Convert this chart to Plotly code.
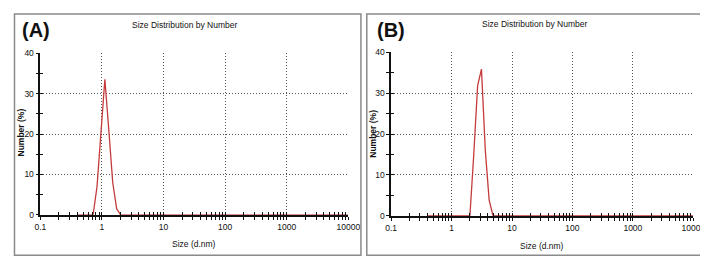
import plotly.graph_objects as go

# ---- data ----
size_a = [0.4, 0.7195, 0.8332, 0.9649, 1.117, 1.294, 1.499, 1.736, 2.010, 10000]
number_a = [0, 0, 7, 21, 33.6, 21, 8, 1.5, 0, 0]

size_b = [0.4, 2.010, 2.328, 2.696, 3.122, 3.615, 4.187, 4.849, 10000]
number_b = [0, 0, 15, 31.8, 35.9, 16, 3.8, 0, 0]

x_tickvals = [0.1, 1, 10, 100, 1000, 10000]
x_ticktext = ["0.1", "1", "10", "100", "1000", "10000"]
y_tickvals = [0, 10, 20, 30, 40]

panel_labels = ["(A)", "(B)"]
title_text = "Size Distribution by Number"
x_title = "Size (d.nm)"
y_title = "Number (%)"

W, H = 708, 256
FONT = "Liberation Sans, Arial"
RED = "#c43a3a"
GRID = "#555555"
DOT = "1px,2px"
TICKSIZE = 8.5

# plot area pixel boxes (left, right, top, bottom)
boxes = [(27, 343, 42, 210), (387, 697, 41, 211)]
borders = [(0.5, 356, 1, 252), (362, 707.5, 1, 252)]

def px_x(v):
    return v / W

def px_y(v):
    return 1 - v / H

fig = go.Figure()

datasets = [(size_a, number_a), (size_b, number_b)]
for i, (xs, ys) in enumerate(datasets):
    n = i + 1
    xa = "x" if n == 1 else "x%d" % n
    ya = "y" if n == 1 else "y%d" % n
    fig.add_trace(go.Scatter(x=xs, y=ys, mode="lines", xaxis=xa, yaxis=ya,
                             line=dict(color=RED, width=1.3), hoverinfo="skip",
                             showlegend=False))
    # invisible traces on overlay axes (for crossing ticks)
    fig.add_trace(go.Scatter(x=xs, y=ys, mode="lines", xaxis="x%d" % (n + 2),
                             yaxis="y%d" % (n + 2), opacity=0, hoverinfo="skip",
                             showlegend=False))

layout = dict(width=W, height=H, margin=dict(l=0, r=0, t=0, b=0),
              paper_bgcolor="white", plot_bgcolor="white",
              font=dict(family=FONT, size=9, color="#111"))

for i, (l, r, t, b) in enumerate(boxes):
    n = i + 1
    xk = "xaxis" if n == 1 else "xaxis%d" % n
    yk = "yaxis" if n == 1 else "yaxis%d" % n
    xd = [px_x(l), px_x(r)]
    yd = [px_y(b), px_y(t)]
    yanchor = "y" if n == 1 else "y%d" % n
    xanchor = "x" if n == 1 else "x%d" % n
    layout[xk] = dict(type="log", range=[-1, 4], domain=xd, anchor=yanchor,
                      tickvals=x_tickvals, ticktext=x_ticktext,
                      ticks="outside", ticklen=3, tickcolor="#111", tickwidth=1,
                      showline=True, linecolor="#111", linewidth=2,
                      showgrid=True, gridcolor=GRID, griddash=DOT, gridwidth=1,
                      minor=dict(dtick="D1", ticks="outside", ticklen=3,
                                 tickcolor="#111", showgrid=False),
                      layer="below traces", zeroline=False,
                      tickfont=dict(size=TICKSIZE, family=FONT), fixedrange=True)
    layout[yk] = dict(range=[0, 40], domain=yd, anchor=xanchor,
                      tickvals=y_tickvals, ticks="outside", ticklen=3,
                      tickcolor="#111", showline=True, linecolor="#111", linewidth=1.5,
                      showgrid=True, gridcolor=GRID, griddash=DOT, gridwidth=1,
                      minor=dict(dtick=5, ticks="outside", ticklen=3,
                                 tickcolor="#111", showgrid=False),
                      zeroline=False, layer="below traces",
                      tickfont=dict(size=TICKSIZE, family=FONT), fixedrange=True)
    # overlay axes with inside ticks so ticks cross the axis lines
    layout["xaxis%d" % (n + 2)] = dict(type="log", range=[-1, 4], overlaying=xanchor,
                                       anchor="y%d" % (n + 2), domain=xd,
                                       tickvals=x_tickvals, ticks="inside", ticklen=3,
                                       tickcolor="#111", showticklabels=False,
                                       showgrid=False, showline=False, zeroline=False,
                                       minor=dict(dtick="D1", ticks="inside", ticklen=3,
                                                  tickcolor="#111", showgrid=False),
                                       side="bottom", fixedrange=True)
    layout["yaxis%d" % (n + 2)] = dict(range=[0, 40], overlaying=yanchor,
                                       anchor="x%d" % (n + 2), domain=yd,
                                       tickvals=y_tickvals, ticks="inside", ticklen=3,
                                       tickcolor="#111", showticklabels=False,
                                       showgrid=False, showline=False, zeroline=False,
                                       minor=dict(dtick=5, ticks="inside", ticklen=3,
                                                  tickcolor="#111", showgrid=False),
                                       side="left", fixedrange=True)

fig.update_layout(**layout)

# panel borders
for (l, r, t, b) in borders:
    fig.add_shape(type="rect", xref="paper", yref="paper",
                  x0=px_x(l), x1=px_x(r), y0=px_y(b), y1=px_y(t),
                  line=dict(color="#8a8a8a", width=1.5), fillcolor="rgba(0,0,0,0)")

# annotations
label_pos = [(22.5, 17.5), (386.5, 17.5)]
title_pos = [(175.5, 12), (534.5, 11)]
xt_pos = [(185, 240), (542, 242)]
yt_pos = [(7.5, 124), (368, 126)]
for i in range(2):
    fig.add_annotation(text="<b>%s</b>" % panel_labels[i], x=px_x(label_pos[i][0]),
                       y=px_y(label_pos[i][1]), xref="paper", yref="paper",
                       showarrow=False, font=dict(family=FONT, size=20, color="#111"),
                       xanchor="center", yanchor="middle")
    fig.add_annotation(text=title_text, x=px_x(title_pos[i][0]), y=px_y(title_pos[i][1]),
                       xref="paper", yref="paper", showarrow=False,
                       font=dict(family=FONT, size=8.5, color="#111"),
                       xanchor="center", yanchor="middle")
    fig.add_annotation(text=x_title, x=px_x(xt_pos[i][0]), y=px_y(xt_pos[i][1]),
                       xref="paper", yref="paper", showarrow=False,
                       font=dict(family=FONT, size=8.5, color="#111"),
                       xanchor="center", yanchor="middle")
    fig.add_annotation(text="<b>%s</b>" % y_title, x=px_x(yt_pos[i][0]), y=px_y(yt_pos[i][1]),
                       xref="paper", yref="paper", showarrow=False, textangle=-90,
                       font=dict(family=FONT, size=8.5, color="#111"),
                       xanchor="center", yanchor="middle")

fig.write_html("out.html")
